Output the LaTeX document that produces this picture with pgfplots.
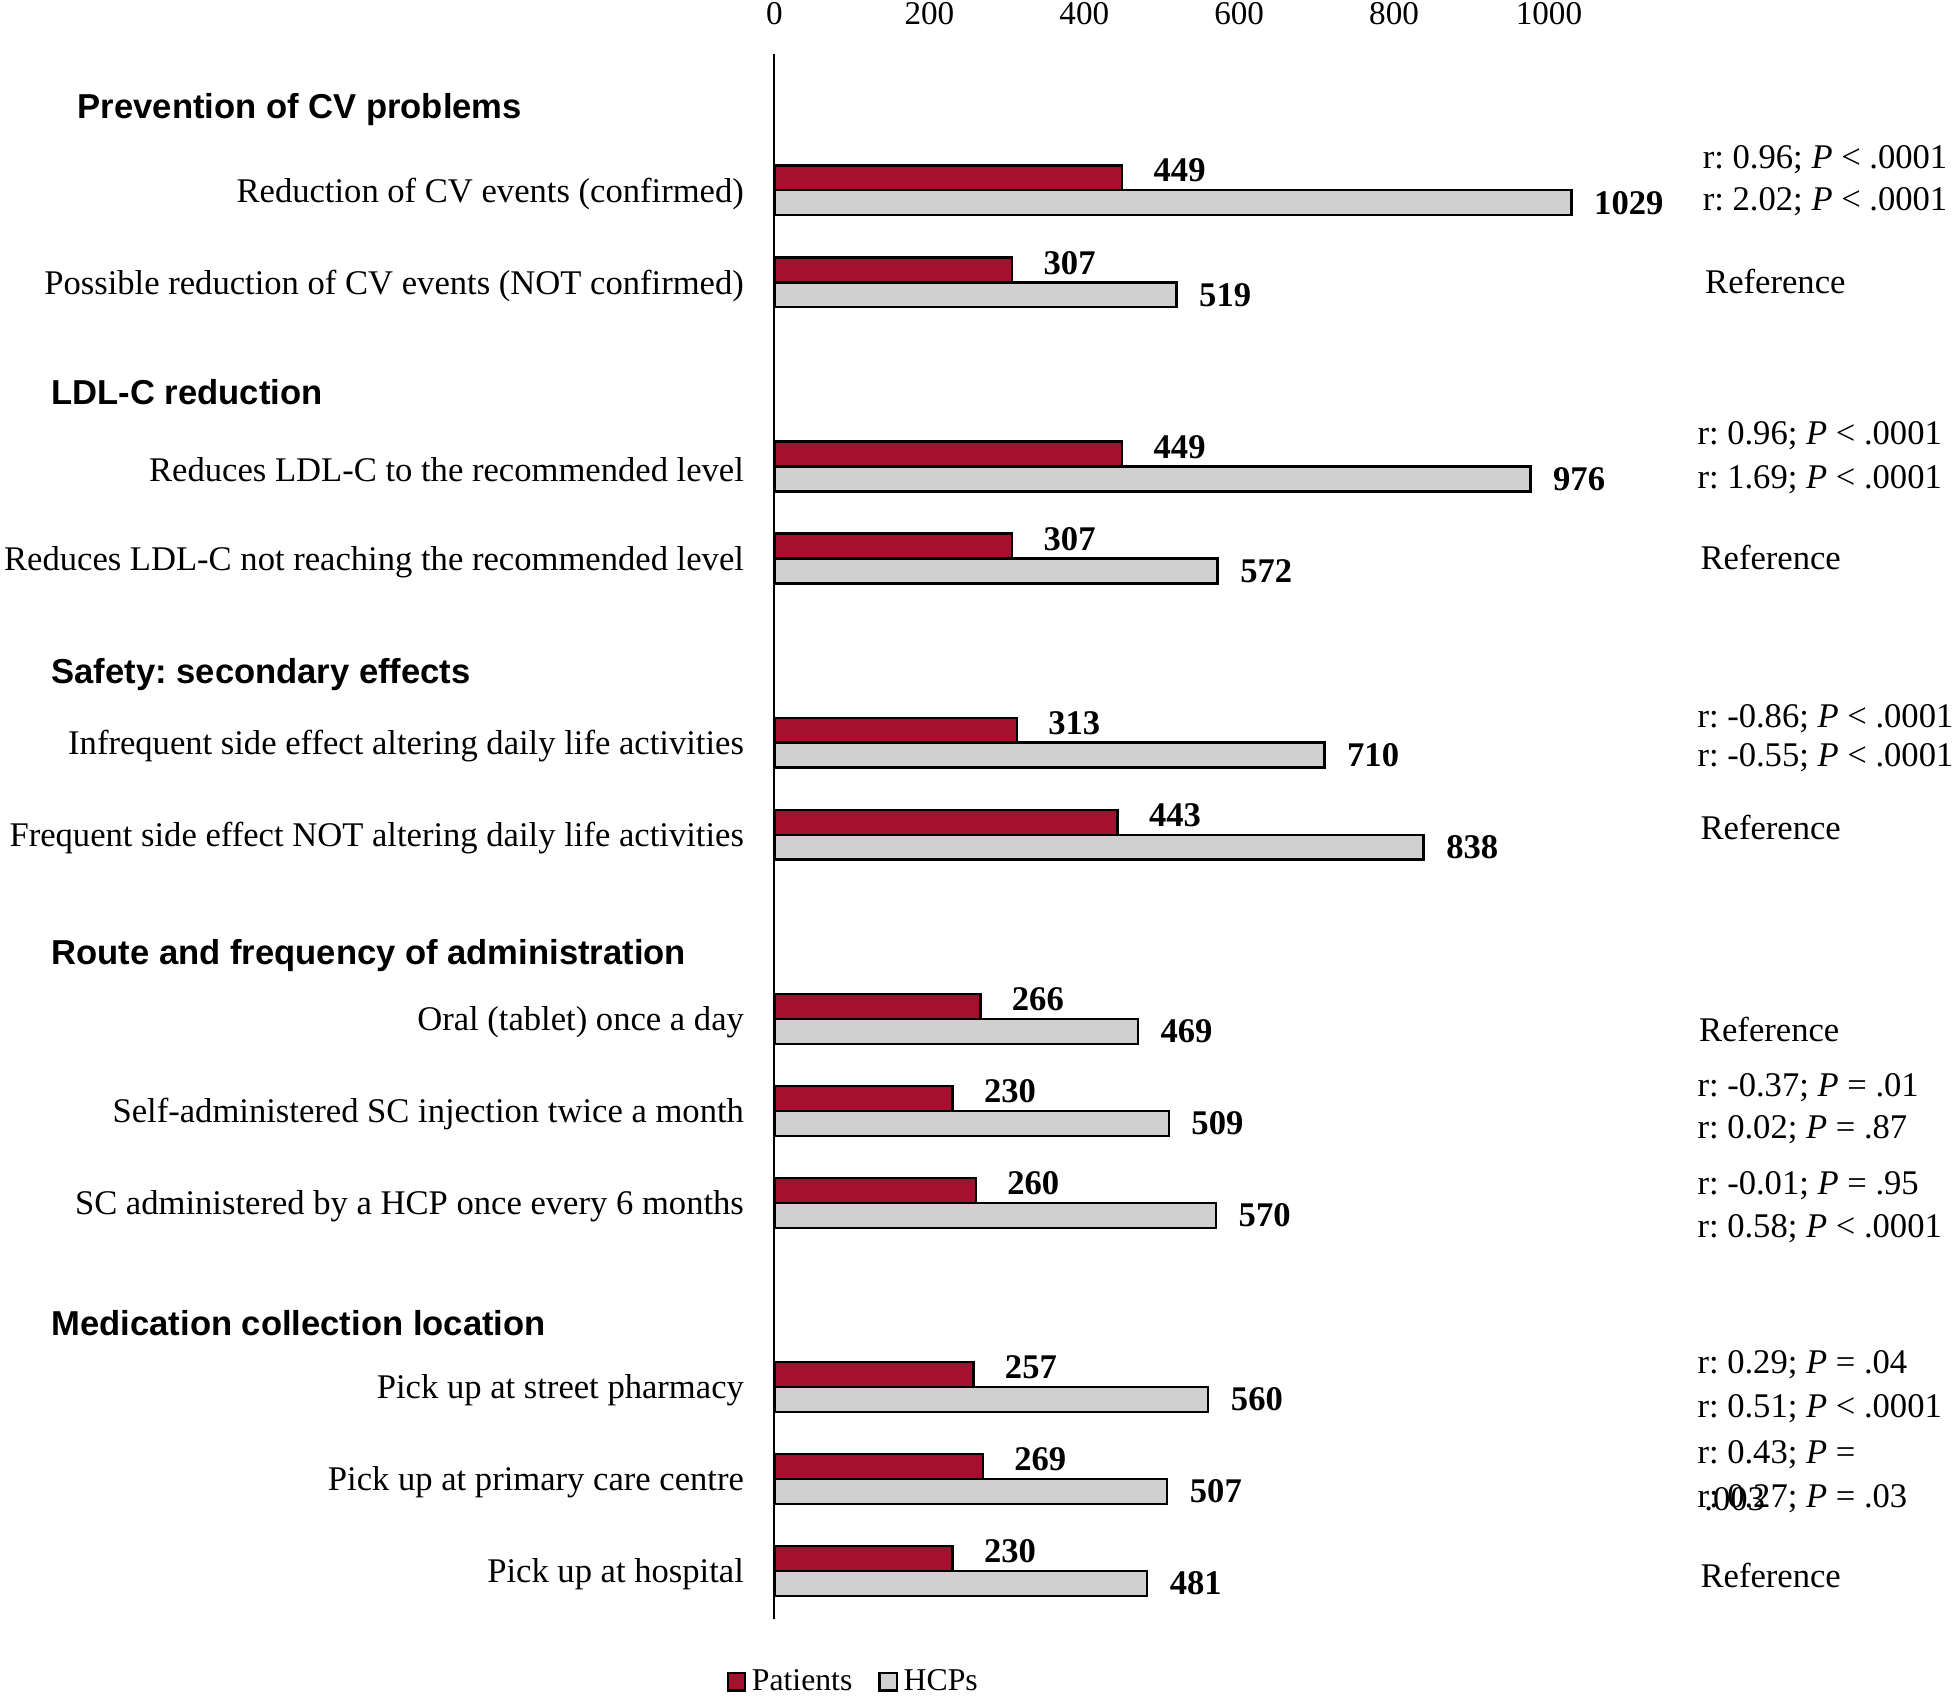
\documentclass[border=0pt]{standalone}
\usepackage{fontspec}
\setmainfont{Liberation Serif}
\newfontfamily\headfont{Liberation Sans}
\usepackage{pgfplots}
\pgfplotsset{compat=1.18}
\definecolor{patred}{RGB}{165,16,46}
\definecolor{hcpgray}{RGB}{208,208,208}
\frenchspacing
\begin{document}
\begin{tikzpicture}
\path[use as bounding box] (-268.6pt,-26.7pt) rectangle (409.4pt,561.6pt);
\begin{axis}[
    at={(0,0)}, anchor=south west,
    scale only axis,
    width=268.6pt, height=543pt,
    xbar, y dir=reverse,
    xmin=0, xmax=1000, ymin=-1.52, ymax=15.49,
    bar width=0.271,
    clip=false,
    axis x line*=top, axis y line*=left,
    x axis line style={draw=none},
    y axis line style={-, line width=0.7pt},
    major tick length=0pt, tick style={draw=none},
    xtick={0,200,...,1000},
    /pgf/number format/1000 sep={},
    /pgf/number format/assume math mode=true,
    xticklabel style={font=\fontsize{11.5}{13}\selectfont, yshift=6.3pt},
    ytick={0,1,3,4,6,7,9,10,11,13,14,15},
    yticklabels={Reduction of CV events (confirmed),
        Possible reduction of CV events (NOT confirmed),
        Reduces LDL-C to the recommended level,
        Reduces LDL-C not reaching the recommended level,
        Infrequent side effect altering daily life activities,
        Frequent side effect NOT altering daily life activities,
        Oral (tablet) once a day,
        Self-administered SC injection twice a month,
        SC administered by a HCP once every 6 months,
        Pick up at street pharmacy,
        Pick up at primary care centre,
        Pick up at hospital},
    yticklabel style={font=\fontsize{12}{14}\selectfont, anchor=east, inner sep=0pt, xshift=-10.4pt},
    point meta=x,
    nodes near coords,
    every node near coord/.append style={font=\fontsize{12}{14}\selectfont\bfseries, anchor=west, inner sep=0pt},
    legend columns=2,
    legend style={draw=none, at={(0.104,-0.040)}, anchor=center,
        font=\fontsize{11}{13}\selectfont, inner sep=0pt,
        /tikz/every even column/.append style={column sep=7pt},
        /tikz/every odd column/.append style={column sep=0pt}},
    legend image code/.code={\draw[#1, line width=0.8pt] (0pt,-3pt) rectangle (6pt,3pt);},
    legend cell align=left,
]
\addplot[draw=black, line width=0.8pt, fill=patred, bar shift=-0.1705,
    every node near coord/.append style={xshift=10.5pt, yshift=2.5pt}]
    coordinates {(449,0) (307,1) (449,3) (307,4) (313,6) (443,7)
                 (266,9) (230,10) (260,11) (257,13) (269,14) (230,15)};
\addplot[draw=black, line width=0.8pt, fill=hcpgray, bar shift=0.1005,
    every node near coord/.append style={xshift=7.5pt}]
    coordinates {(1029,0) (519,1) (976,3) (572,4) (710,6) (838,7)
                 (469,9) (509,10) (570,11) (560,13) (507,14) (481,15)};
\legend{Patients, HCPs}

% group headings
\begin{scope}[every node/.style={anchor=west, inner sep=0pt, font=\headfont\bfseries\fontsize{12}{14}\selectfont}]
\node at ([xshift=-241.8pt]axis cs:0,-0.91) {Prevention of CV problems};
\node at ([xshift=-250.9pt]axis cs:0,2.16) {LDL-C reduction};
\node at ([xshift=-250.9pt]axis cs:0,5.23) {Safety: secondary effects};
\node at ([xshift=-250.9pt]axis cs:0,8.28) {Route and frequency of administration};
\node at ([xshift=-250.9pt]axis cs:0,12.27) {Medication collection location};
\end{scope}

% statistics column
\begin{scope}[every node/.style={anchor=west, inner sep=0pt, font=\fontsize{12}{14}\selectfont}]
\node at (axis cs:1198,-0.373) {r: 0.96; \textit{P} < .0001};
\node at (axis cs:1198,0.088) {r: 2.02; \textit{P} < .0001};
\node at (axis cs:1201,0.955) {Reference};
\node at (axis cs:1191,2.635) {r: 0.96; \textit{P} < .0001};
\node at (axis cs:1191,3.11) {r: 1.69; \textit{P} < .0001};
\node at (axis cs:1195,3.95) {Reference};
\node at (axis cs:1191,5.71) {r: -0.86; \textit{P} < .0001};
\node at (axis cs:1191,6.13) {r: -0.55; \textit{P} < .0001};
\node at (axis cs:1195,6.89) {Reference};
\node at (axis cs:1193,9.08) {Reference};
\node at (axis cs:1191,9.71) {r: -0.37; \textit{P} = .01};
\node at (axis cs:1191,10.17) {r: 0.02; \textit{P} = .87};
\node at (axis cs:1191,10.78) {r: -0.01; \textit{P} = .95};
\node at (axis cs:1191,11.24) {r: 0.58; \textit{P} < .0001};
\node at (axis cs:1191,12.72) {r: 0.29; \textit{P} = .04};
\node at (axis cs:1191,13.20) {r: 0.51; \textit{P} < .0001};
\node at (axis cs:1191,13.70) {r: 0.43; \textit{P} =};
\node at (axis cs:1200,14.18) {.003};
\node at (axis cs:1191,14.18) {r: 0.27; \textit{P} = .03};
\node at (axis cs:1195,15.01) {Reference};
\end{scope}
\end{axis}
\end{tikzpicture}
\end{document}
